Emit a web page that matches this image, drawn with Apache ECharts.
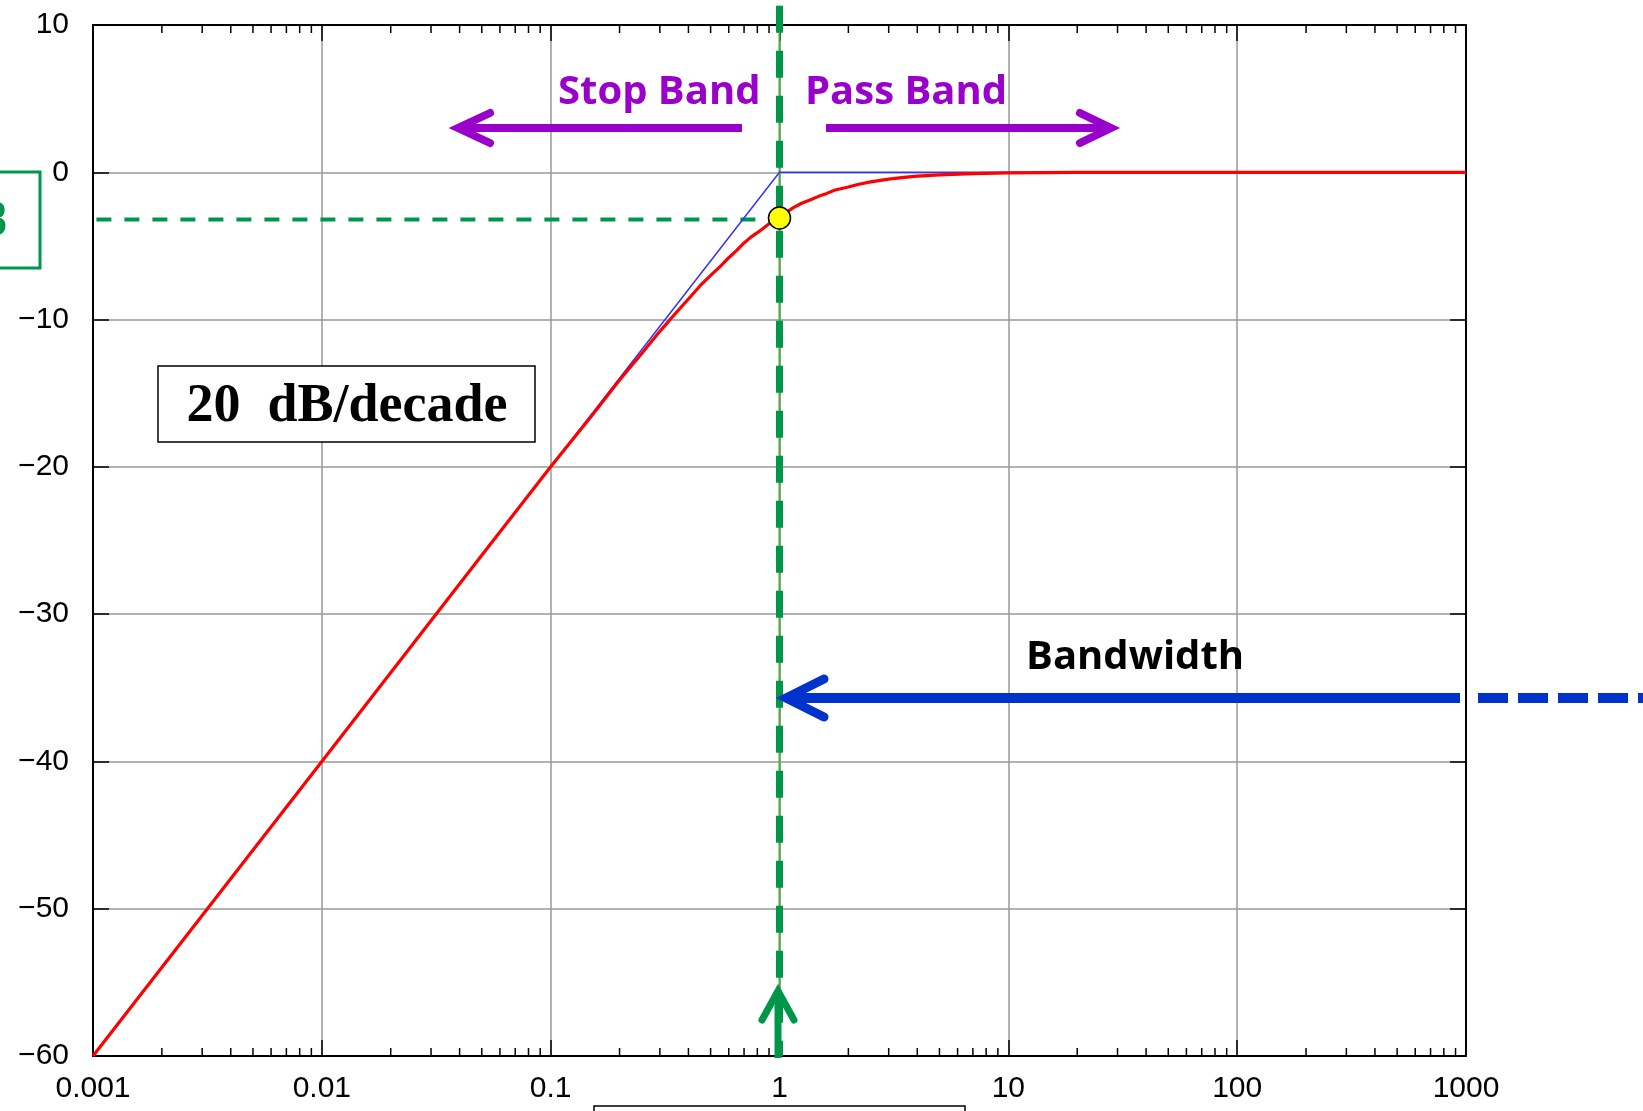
<!DOCTYPE html>
<html>
<head>
<meta charset="utf-8">
<script src="https://cdn.jsdelivr.net/npm/echarts@6/dist/echarts.min.js"></script>
<style>
  html, body { margin: 0; padding: 0; background: #fff; }
  #main { width: 1643px; height: 1111px; }
</style>
</head>
<body>
<div id="main"></div>
<script>
// magnitude response (freq, dB)
var freq   = [0.001, 0.01, 0.05, 0.1, 0.15, 0.2, 0.25, 0.3, 0.35, 0.4, 0.45, 0.5, 0.55, 0.6, 0.65, 0.7, 0.75, 0.8, 0.85, 0.9, 0.95, 1,
              1.05, 1.1, 1.15, 1.25, 1.35, 1.5, 1.6, 1.75, 2, 2.2, 2.5, 3, 3.5, 4, 5, 7, 10, 20, 100, 1000];
var gainDb = [-60, -40, -26.0, -20.0, -16.6, -14.1, -12.3, -10.8, -9.6, -8.6, -7.7, -7.0, -6.4, -5.8, -5.3, -4.8, -4.4, -4.1, -3.8, -3.5, -3.2, -3.0,
              -2.8, -2.6, -2.4, -2.1, -1.9, -1.6, -1.45, -1.2, -1.0, -0.83, -0.65, -0.46, -0.34, -0.26, -0.17, -0.09, -0.04, -0.01, 0, 0];

// straight line asymptote
var asymFreq = [0.001, 1, 1000];
var asymDb   = [-60, 0, 0];

// cutoff point and the dashed level line
var cutoffFreq = 1;
var cutoffDb = -3.1;
var levelDb = -3.2;

var xTickLabels = ['0.001', '0.01', '0.1', '1', '10', '100', '1000'];
var decades = [0.001, 0.01, 0.1, 1, 10, 100];
var minorSteps = [2, 3, 4, 5, 6, 7, 8, 9];

var GREEN = '#00964a';
var PURPLE = '#9900cc';
var BLUE = '#0033cc';

function zip(a, b) {
  return a.map(function (v, i) { return [v, b[i]]; });
}

var minorTicks = [];
decades.forEach(function (d) {
  minorSteps.forEach(function (m) { minorTicks.push([d * m, 0]); });
});

var chart = echarts.init(document.getElementById('main'));

var tickStyle = { inside: true, length: 16, lineStyle: { color: '#000', width: 1.5 } };

var option = {
  animation: false,
  backgroundColor: '#fff',
  grid: { left: 93, right: 177, top: 25, bottom: 55, containLabel: false },
  xAxis: [{
    type: 'log',
    logBase: 10,
    min: 0.001,
    max: 1000,
    position: 'bottom',
    axisLine: { onZero: false, lineStyle: { color: '#000', width: 2 } },
    axisTick: tickStyle,
    axisLabel: {
      margin: 18,
      color: '#000',
      fontSize: 30,
      fontFamily: 'Liberation Sans',
      formatter: function (v) {
        return xTickLabels[Math.round(Math.log10(v)) + 3];
      }
    },
    splitLine: { show: true, lineStyle: { color: '#999', width: 1.5 } }
  }, {
    type: 'log',
    logBase: 10,
    min: 0.001,
    max: 1000,
    position: 'top',
    axisLine: { onZero: false, lineStyle: { color: '#000', width: 2 } },
    axisTick: tickStyle,
    axisLabel: { show: false },
    splitLine: { show: false }
  }],
  yAxis: [{
    type: 'value',
    min: -60,
    max: 10,
    interval: 10,
    position: 'left',
    axisLine: { show: true, onZero: false, lineStyle: { color: '#000', width: 2 } },
    axisTick: { show: true, inside: true, length: 16, lineStyle: { color: '#000', width: 1.5 } },
    axisLabel: {
      margin: 24,
      color: '#000',
      fontSize: 30,
      fontFamily: 'Liberation Sans',
      formatter: function (v) { return String(v).replace('-', '\u2212'); }
    },
    splitLine: { show: true, lineStyle: { color: '#999', width: 1.5 } }
  }, {
    type: 'value',
    min: -60,
    max: 10,
    interval: 10,
    position: 'right',
    axisLine: { show: true, onZero: false, lineStyle: { color: '#000', width: 2 } },
    axisTick: { show: true, inside: true, length: 16, lineStyle: { color: '#000', width: 1.5 } },
    axisLabel: { show: false },
    splitLine: { show: false }
  }],
  series: [
    {
      // minor ticks 2..9 of each decade, top and bottom
      type: 'custom',
      silent: true,
      clip: false,
      z: 5,
      data: minorTicks,
      renderItem: function (params, api) {
        var b = api.coord([api.value(0), -60]);
        var t = api.coord([api.value(0), 10]);
        var st = { stroke: '#000', lineWidth: 1.5 };
        return {
          type: 'group',
          children: [
            { type: 'line', shape: { x1: b[0], y1: b[1], x2: b[0], y2: b[1] - 8 }, style: st },
            { type: 'line', shape: { x1: t[0], y1: t[1], x2: t[0], y2: t[1] + 8 }, style: st }
          ]
        };
      }
    },
    {
      // thin solid cutoff line
      type: 'line',
      silent: true,
      clip: false,
      symbol: 'none',
      z: 3,
      data: [[cutoffFreq, 11.3], [cutoffFreq, -60]],
      lineStyle: { color: '#4ea843', width: 2 }
    },
    {
      // thick dashed cutoff line
      type: 'line',
      silent: true,
      clip: false,
      symbol: 'none',
      z: 3,
      data: [[cutoffFreq, 11.3], [cutoffFreq, -60]],
      lineStyle: { color: GREEN, width: 7, type: [27, 18] }
    },
    {
      // -3 dB dashed level
      type: 'line',
      silent: true,
      clip: false,
      symbol: 'none',
      z: 3,
      data: [[0.000589, levelDb], [cutoffFreq, levelDb]],
      lineStyle: { color: GREEN, width: 4, type: [15, 13] }
    },
    {
      type: 'line',
      silent: true,
      symbol: 'none',
      z: 4,
      data: zip(asymFreq, asymDb),
      lineStyle: { color: '#3333ff', width: 1.5 }
    },
    {
      type: 'line',
      silent: true,
      symbol: 'none',
      z: 6,
      data: zip(freq, gainDb),
      lineStyle: { color: '#ff0000', width: 3.2, join: 'round' }
    },
    {
      type: 'scatter',
      silent: true,
      z: 10,
      symbolSize: 22,
      data: [[cutoffFreq, cutoffDb]],
      itemStyle: { color: '#ffff00', borderColor: '#000', borderWidth: 1.5, opacity: 1 }
    }
  ],
  graphic: [
    // Stop Band / Pass Band
    { type: 'text', z: 100, style: { x: 558, y: 93, text: 'Stop Band', font: 'bold 40px "Open Sans"', fill: PURPLE, textVerticalAlign: 'middle', verticalAlign: 'middle' } },
    { type: 'line', z: 100, shape: { x1: 742, y1: 128, x2: 462, y2: 128 }, style: { stroke: PURPLE, lineWidth: 8 } },
    { type: 'polyline', z: 100, shape: { points: [[490, 113], [458, 128], [490, 143]] }, style: { stroke: PURPLE, lineWidth: 8, lineCap: 'round', lineJoin: 'miter', fill: null } },
    { type: 'text', z: 100, style: { x: 805, y: 93, text: 'Pass Band', font: 'bold 40px "Open Sans"', fill: PURPLE, textVerticalAlign: 'middle', verticalAlign: 'middle' } },
    { type: 'line', z: 100, shape: { x1: 826, y1: 128, x2: 1106, y2: 128 }, style: { stroke: PURPLE, lineWidth: 8 } },
    { type: 'polyline', z: 100, shape: { points: [[1080, 113], [1111, 128], [1080, 143]] }, style: { stroke: PURPLE, lineWidth: 8, lineCap: 'round', lineJoin: 'miter', fill: null } },

    // -3 dB box at the left edge
    { type: 'rect', z: 100, shape: { x: -10, y: 172, width: 50, height: 96 }, style: { stroke: GREEN, lineWidth: 3, fill: null } },
    { type: 'text', z: 100, style: { x: 8, y: 222, text: '\u22123 dB', font: 'bold 48px "Open Sans"', fill: GREEN, textAlign: 'right', align: 'right', textVerticalAlign: 'middle', verticalAlign: 'middle' } },

    // slope box
    { type: 'rect', z: 100, shape: { x: 158, y: 366, width: 377, height: 76 }, style: { stroke: '#000', lineWidth: 1.5, fill: '#fff' } },
    { type: 'text', z: 101, style: { x: 347, y: 407, text: '20  dB/decade', font: 'bold 54px "Liberation Serif"', fill: '#000', textAlign: 'center', align: 'center', textVerticalAlign: 'middle', verticalAlign: 'middle' } },

    // bandwidth arrow
    { type: 'text', z: 100, style: { x: 1026, y: 658, text: 'Bandwidth', font: 'bold 40px "Open Sans"', fill: '#000', textVerticalAlign: 'middle', verticalAlign: 'middle' } },
    { type: 'line', z: 100, shape: { x1: 790, y1: 698, x2: 1460, y2: 698 }, style: { stroke: BLUE, lineWidth: 10 } },
    { type: 'polyline', z: 100, shape: { points: [[824, 679], [786, 698], [824, 717]] }, style: { stroke: BLUE, lineWidth: 9, lineCap: 'round', lineJoin: 'miter', fill: null } },
    { type: 'line', z: 100, shape: { x1: 1478, y1: 698, x2: 1650, y2: 698 }, style: { stroke: BLUE, lineWidth: 10, lineDash: [30, 10] } },

    // upward arrow at cutoff
    { type: 'line', z: 100, shape: { x1: 778, y1: 1058, x2: 778, y2: 990 }, style: { stroke: GREEN, lineWidth: 7 } },
    { type: 'polyline', z: 100, shape: { points: [[762, 1020], [778, 991], [794, 1020]] }, style: { stroke: GREEN, lineWidth: 7, lineCap: 'round', lineJoin: 'miter', fill: null } },

    // box cut off at the bottom
    { type: 'rect', z: 100, shape: { x: 594, y: 1106, width: 371, height: 40 }, style: { stroke: '#000', lineWidth: 1.5, fill: '#fff' } }
  ]
};

chart.setOption(option);
</script>
</body>
</html>
